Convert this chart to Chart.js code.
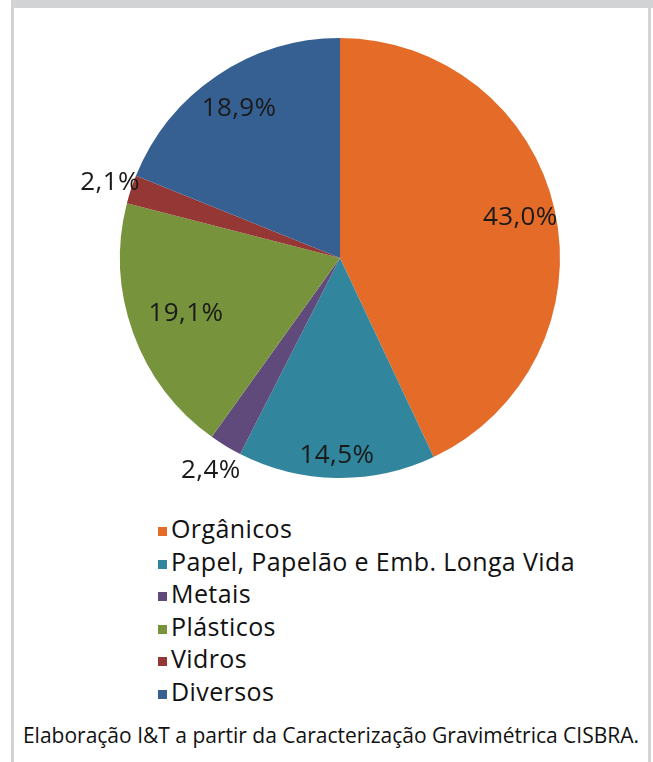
<!DOCTYPE html>
<html>
<head>
<meta charset="utf-8">
<script src="https://cdn.jsdelivr.net/npm/chart.js@4/dist/chart.umd.min.js"></script>
<style>
  html, body { margin: 0; padding: 0; background: #ffffff; }
  body { width: 653px; height: 762px; position: relative; overflow: hidden; font-family: "Open Sans", sans-serif; }
  #topband { position: absolute; left: 11px; top: 0; width: 642px; height: 8px; background: #d2d3d5; }
  #lborder { position: absolute; left: 11px; top: 0; width: 3px; height: 762px; background: #d2d3d5; }
  #rborder { position: absolute; left: 648px; top: 0; width: 3px; height: 762px; background: #d2d3d5; }
  #chartbox { position: absolute; left: 40px; top: 8px; width: 600px; height: 500px; }
  #legend { position: absolute; left: 158px; top: 512px; }
  .item { height: 32.6px; line-height: 32.6px; font-size: 25px; font-weight: 500; letter-spacing: 0.4px; color: #111; white-space: nowrap; }
  .sw { display: inline-block; width: 9px; height: 9px; margin-right: 4px; vertical-align: 2px; }
  #caption { position: absolute; left: 14px; width: 634px; top: 721px; text-align: center; font-size: 21px; color: #111; white-space: nowrap; }
</style>
</head>
<body>
<div id="topband"></div>
<div id="lborder"></div>
<div id="rborder"></div>
<div id="chartbox"><canvas id="c"></canvas></div>
<div id="legend"></div>
<div id="caption">Elaboração I&amp;T a partir da Caracterização Gravimétrica CISBRA.</div>
<script>
const categories = ["Orgânicos", "Papel, Papelão e Emb. Longa Vida", "Metais", "Plásticos", "Vidros", "Diversos"];
const values = [43.0, 14.5, 2.4, 19.1, 2.1, 18.9];
const valueLabels = ["43,0%", "14,5%", "2,4%", "19,1%", "2,1%", "18,9%"];
const colors = ["#e46c28", "#31859c", "#604a7b", "#77933c", "#953735", "#376092"];

// radial placement of each value label, as a fraction of the outer radius
const labelRadius = [0.84, 0.9, 1.13, 0.745, 1.1, 0.82];

const labelPlugin = {
  id: "sliceLabels",
  afterDatasetsDraw(chart) {
    const ctx = chart.ctx;
    const meta = chart.getDatasetMeta(0);
    ctx.save();
    ctx.font = "500 26px 'Open Sans'";
    if ("letterSpacing" in ctx) ctx.letterSpacing = "0.4px";
    ctx.fillStyle = "#1a1a1a";
    ctx.textAlign = "center";
    ctx.textBaseline = "middle";
    meta.data.forEach((arc, i) => {
      const p = arc.getProps(["x", "y", "startAngle", "endAngle", "outerRadius"], true);
      const mid = (p.startAngle + p.endAngle) / 2;
      const r = p.outerRadius * labelRadius[i];
      ctx.fillText(valueLabels[i], p.x + Math.cos(mid) * r, p.y + Math.sin(mid) * r);
    });
    ctx.restore();
  }
};

new Chart(document.getElementById("c"), {
  type: "pie",
  data: {
    labels: categories,
    datasets: [{ data: values, backgroundColor: colors, borderWidth: 0 }]
  },
  options: {
    responsive: true,
    maintainAspectRatio: false,
    animation: false,
    layout: { padding: 30 },
    plugins: { legend: { display: false }, tooltip: { enabled: false } }
  },
  plugins: [labelPlugin]
});

const legend = document.getElementById("legend");
categories.forEach((name, i) => {
  const d = document.createElement("div");
  d.className = "item";
  const s = document.createElement("span");
  s.className = "sw";
  s.style.background = colors[i];
  d.appendChild(s);
  d.appendChild(document.createTextNode(name));
  legend.appendChild(d);
});
</script>
</body>
</html>
